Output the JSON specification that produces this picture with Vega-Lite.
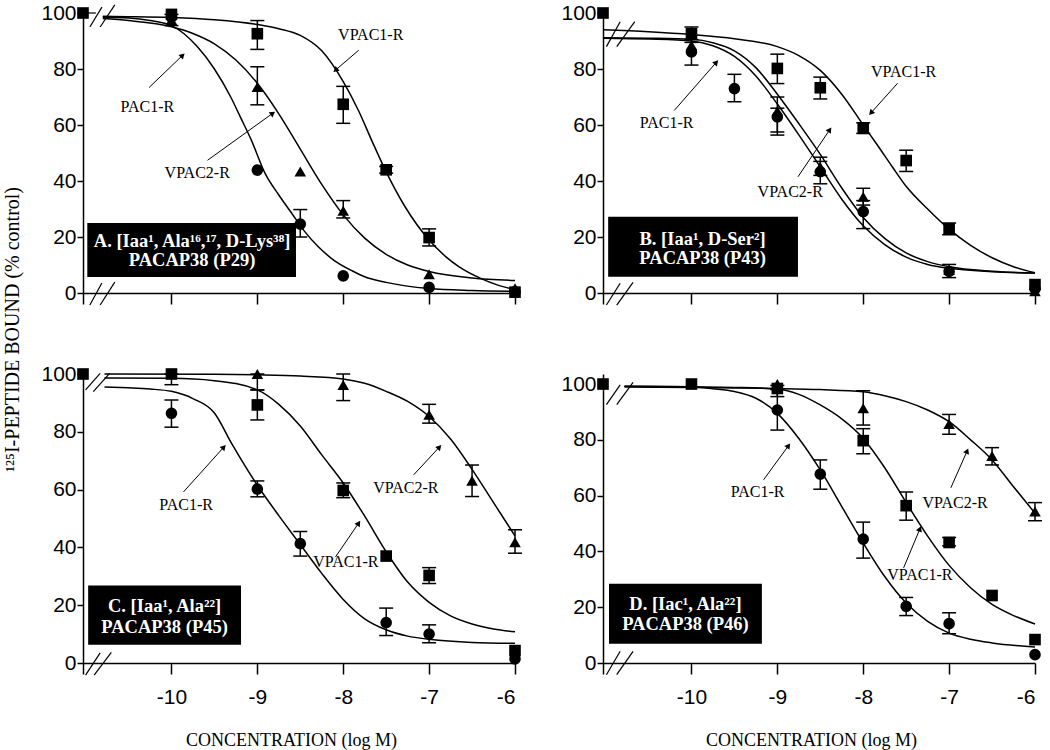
{
"$schema": "https://vega.github.io/schema/vega-lite/v6.json",
"background": "white",
"padding": {"left": 2, "top": 2, "right": 5, "bottom": 2},
"columns": 2,
"spacing": {"row": 81, "column": 88},
"bounds": "flush",
"datasets": {
"pts": [
{"panel":"A","series":"VPAC1-R","x":-11.03,"y":100},
{"panel":"A","series":"PAC1-R","x":-10,"y":98.5},
{"panel":"A","series":"VPAC2-R","x":-10,"y":97.5,"lo":95.5,"hi":99.5},
{"panel":"A","series":"VPAC1-R","x":-10,"y":99.5},
{"panel":"A","series":"VPAC1-R","x":-9,"y":92.6,"lo":87,"hi":97.3},
{"panel":"A","series":"VPAC2-R","x":-9,"y":73.6,"lo":67.2,"hi":80.8},
{"panel":"A","series":"PAC1-R","x":-9,"y":43.9},
{"panel":"A","series":"VPAC2-R","x":-8.5,"y":43.4},
{"panel":"A","series":"PAC1-R","x":-8.5,"y":24.6,"lo":20,"hi":29.8},
{"panel":"A","series":"VPAC1-R","x":-8,"y":67.4,"lo":60.6,"hi":73.8},
{"panel":"A","series":"VPAC2-R","x":-8,"y":29.4,"lo":26.8,"hi":33},
{"panel":"A","series":"PAC1-R","x":-8,"y":6.1},
{"panel":"A","series":"VPAC1-R","x":-7.5,"y":44,"lo":42.8,"hi":45.2},
{"panel":"A","series":"VPAC1-R","x":-7,"y":19.8,"lo":16.8,"hi":22.9},
{"panel":"A","series":"VPAC2-R","x":-7,"y":6.7},
{"panel":"A","series":"PAC1-R","x":-7,"y":2},
{"panel":"A","series":"PAC1-R","x":-6,"y":0.5},
{"panel":"A","series":"VPAC2-R","x":-6,"y":1.7},
{"panel":"A","series":"VPAC1-R","x":-6,"y":0.3},
{"panel":"B","series":"VPAC1-R","x":-11.03,"y":100},
{"panel":"B","series":"VPAC2-R","x":-10,"y":88.5},
{"panel":"B","series":"PAC1-R","x":-10,"y":86.1,"lo":81.4,"hi":90.5},
{"panel":"B","series":"VPAC1-R","x":-10,"y":92.6,"lo":89.5,"hi":95},
{"panel":"B","series":"PAC1-R","x":-9.5,"y":73,"lo":68.3,"hi":78.1},
{"panel":"B","series":"VPAC1-R","x":-9,"y":80.2,"lo":74.8,"hi":85.3},
{"panel":"B","series":"VPAC2-R","x":-9,"y":65,"lo":57.5,"hi":70},
{"panel":"B","series":"PAC1-R","x":-9,"y":62.9,"lo":56.4,"hi":66},
{"panel":"B","series":"VPAC1-R","x":-8.5,"y":73.3,"lo":69.3,"hi":77.1},
{"panel":"B","series":"VPAC2-R","x":-8.5,"y":45,"lo":42,"hi":48.5},
{"panel":"B","series":"PAC1-R","x":-8.5,"y":43.3,"lo":39,"hi":47},
{"panel":"B","series":"VPAC1-R","x":-8,"y":58.8,"lo":57,"hi":60.8},
{"panel":"B","series":"VPAC2-R","x":-8,"y":34.4,"lo":31.4,"hi":37.4},
{"panel":"B","series":"PAC1-R","x":-8,"y":29.1,"lo":23,"hi":33},
{"panel":"B","series":"VPAC1-R","x":-7.5,"y":47.3,"lo":43.4,"hi":51},
{"panel":"B","series":"VPAC1-R","x":-7,"y":22.9,"lo":20.8,"hi":25},
{"panel":"B","series":"VPAC2-R","x":-7,"y":8.2},
{"panel":"B","series":"PAC1-R","x":-7,"y":7.7,"lo":5.5,"hi":10.2},
{"panel":"B","series":"PAC1-R","x":-6,"y":1.5},
{"panel":"B","series":"VPAC2-R","x":-6,"y":0.6},
{"panel":"B","series":"VPAC1-R","x":-6,"y":3},
{"panel":"C","series":"VPAC1-R","x":-11.03,"y":100},
{"panel":"C","series":"VPAC2-R","x":-10,"y":100},
{"panel":"C","series":"VPAC1-R","x":-10,"y":100,"lo":96.3,"hi":100},
{"panel":"C","series":"PAC1-R","x":-10,"y":86.4,"lo":81.6,"hi":91},
{"panel":"C","series":"VPAC2-R","x":-9,"y":100,"lo":94.5,"hi":100},
{"panel":"C","series":"VPAC1-R","x":-9,"y":89.3,"lo":84.1,"hi":94.5},
{"panel":"C","series":"PAC1-R","x":-9,"y":60.2,"lo":57.5,"hi":63},
{"panel":"C","series":"PAC1-R","x":-8.5,"y":41.3,"lo":37,"hi":45.5},
{"panel":"C","series":"VPAC2-R","x":-8,"y":96.2,"lo":90.8,"hi":100},
{"panel":"C","series":"VPAC1-R","x":-8,"y":59.7,"lo":57.2,"hi":62.3},
{"panel":"C","series":"VPAC1-R","x":-7.5,"y":37},
{"panel":"C","series":"PAC1-R","x":-7.5,"y":14,"lo":9.5,"hi":19},
{"panel":"C","series":"VPAC2-R","x":-7,"y":85.9,"lo":83,"hi":89.5},
{"panel":"C","series":"VPAC1-R","x":-7,"y":30.3,"lo":27.5,"hi":33},
{"panel":"C","series":"PAC1-R","x":-7,"y":10,"lo":7,"hi":13.2},
{"panel":"C","series":"VPAC2-R","x":-6.5,"y":63.1,"lo":57.6,"hi":68.5},
{"panel":"C","series":"VPAC2-R","x":-6,"y":41.8,"lo":38,"hi":46.1},
{"panel":"C","series":"PAC1-R","x":-6,"y":1.4},
{"panel":"C","series":"VPAC1-R","x":-6,"y":4.3},
{"panel":"D","series":"VPAC1-R","x":-11.03,"y":100},
{"panel":"D","series":"VPAC1-R","x":-10,"y":100},
{"panel":"D","series":"VPAC2-R","x":-9,"y":100},
{"panel":"D","series":"PAC1-R","x":-9,"y":90.7,"lo":83.5,"hi":98},
{"panel":"D","series":"VPAC1-R","x":-9,"y":98.4,"lo":95.5,"hi":99.5},
{"panel":"D","series":"PAC1-R","x":-8.5,"y":67.7,"lo":62.3,"hi":72.8},
{"panel":"D","series":"VPAC2-R","x":-8,"y":91.3,"lo":85.3,"hi":97.6},
{"panel":"D","series":"VPAC1-R","x":-8,"y":79.7,"lo":75,"hi":84},
{"panel":"D","series":"PAC1-R","x":-8,"y":44.4,"lo":37.6,"hi":50.5},
{"panel":"D","series":"VPAC1-R","x":-7.5,"y":56.4,"lo":51.2,"hi":61.3},
{"panel":"D","series":"PAC1-R","x":-7.5,"y":20.3,"lo":17,"hi":23.5},
{"panel":"D","series":"VPAC2-R","x":-7,"y":85.7,"lo":82,"hi":89.1},
{"panel":"D","series":"VPAC1-R","x":-7,"y":43.2,"lo":42,"hi":45},
{"panel":"D","series":"PAC1-R","x":-7,"y":14.1,"lo":10.5,"hi":18},
{"panel":"D","series":"VPAC2-R","x":-6.5,"y":74.2,"lo":71,"hi":77.2},
{"panel":"D","series":"VPAC1-R","x":-6.5,"y":24.2},
{"panel":"D","series":"VPAC2-R","x":-6,"y":54.3,"lo":51,"hi":57.5},
{"panel":"D","series":"VPAC1-R","x":-6,"y":8.4},
{"panel":"D","series":"PAC1-R","x":-6,"y":3}
],
"curves": [
{"panel":"A","series":"PAC1-R","x":-10.8,"y":98.5},{"panel":"A","series":"PAC1-R","x":-10.5,"y":98.2},{"panel":"A","series":"PAC1-R","x":-10.25,"y":97.3},{"panel":"A","series":"PAC1-R","x":-10,"y":95.5},{"panel":"A","series":"PAC1-R","x":-9.85,"y":92.5},{"panel":"A","series":"PAC1-R","x":-9.7,"y":88},{"panel":"A","series":"PAC1-R","x":-9.5,"y":80},{"panel":"A","series":"PAC1-R","x":-9.31,"y":70},{"panel":"A","series":"PAC1-R","x":-9.2,"y":63},{"panel":"A","series":"PAC1-R","x":-9.07,"y":54.6},{"panel":"A","series":"PAC1-R","x":-8.91,"y":42.7},{"panel":"A","series":"PAC1-R","x":-8.75,"y":35},{"panel":"A","series":"PAC1-R","x":-8.6,"y":28.5},{"panel":"A","series":"PAC1-R","x":-8.45,"y":22},{"panel":"A","series":"PAC1-R","x":-8.29,"y":16.5},{"panel":"A","series":"PAC1-R","x":-8.1,"y":11.5},{"panel":"A","series":"PAC1-R","x":-7.9,"y":8},{"panel":"A","series":"PAC1-R","x":-7.75,"y":5.8},{"panel":"A","series":"PAC1-R","x":-7.5,"y":3.8},{"panel":"A","series":"PAC1-R","x":-7,"y":1.6},{"panel":"A","series":"PAC1-R","x":-6.5,"y":0.9},{"panel":"A","series":"PAC1-R","x":-6,"y":0.6},
{"panel":"A","series":"VPAC2-R","x":-10.8,"y":98},{"panel":"A","series":"VPAC2-R","x":-10.5,"y":97.3},{"panel":"A","series":"VPAC2-R","x":-10,"y":95.1},{"panel":"A","series":"VPAC2-R","x":-9.75,"y":92.7},{"panel":"A","series":"VPAC2-R","x":-9.5,"y":89},{"panel":"A","series":"VPAC2-R","x":-9.25,"y":83.2},{"panel":"A","series":"VPAC2-R","x":-9,"y":74.9},{"panel":"A","series":"VPAC2-R","x":-8.75,"y":64},{"panel":"A","series":"VPAC2-R","x":-8.5,"y":51.4},{"panel":"A","series":"VPAC2-R","x":-8.25,"y":38.8},{"panel":"A","series":"VPAC2-R","x":-8,"y":27.9},{"panel":"A","series":"VPAC2-R","x":-7.75,"y":19.6},{"panel":"A","series":"VPAC2-R","x":-7.5,"y":13.8},{"panel":"A","series":"VPAC2-R","x":-7.25,"y":10},{"panel":"A","series":"VPAC2-R","x":-7,"y":7.7},{"panel":"A","series":"VPAC2-R","x":-6.5,"y":5.4},{"panel":"A","series":"VPAC2-R","x":-6,"y":4.5},
{"panel":"A","series":"VPAC1-R","x":-10.8,"y":98.8},{"panel":"A","series":"VPAC1-R","x":-10.5,"y":98.7},{"panel":"A","series":"VPAC1-R","x":-10,"y":98.4},{"panel":"A","series":"VPAC1-R","x":-9.5,"y":97.6},{"panel":"A","series":"VPAC1-R","x":-9,"y":95.9},{"panel":"A","series":"VPAC1-R","x":-8.75,"y":94.4},{"panel":"A","series":"VPAC1-R","x":-8.5,"y":92},{"panel":"A","series":"VPAC1-R","x":-8.25,"y":86.5},{"panel":"A","series":"VPAC1-R","x":-8,"y":75.5},{"panel":"A","series":"VPAC1-R","x":-7.82,"y":65},{"panel":"A","series":"VPAC1-R","x":-7.67,"y":54.6},{"panel":"A","series":"VPAC1-R","x":-7.51,"y":43.9},{"panel":"A","series":"VPAC1-R","x":-7.28,"y":30.8},{"panel":"A","series":"VPAC1-R","x":-7,"y":18.9},{"panel":"A","series":"VPAC1-R","x":-6.8,"y":12.8},{"panel":"A","series":"VPAC1-R","x":-6.65,"y":9.3},{"panel":"A","series":"VPAC1-R","x":-6.4,"y":5.2},{"panel":"A","series":"VPAC1-R","x":-6.2,"y":2.8},{"panel":"A","series":"VPAC1-R","x":-6,"y":1.2},
{"panel":"B","series":"VPAC1-R","x":-11.03,"y":94},{"panel":"B","series":"VPAC1-R","x":-10.5,"y":93.3},{"panel":"B","series":"VPAC1-R","x":-10,"y":92.3},{"panel":"B","series":"VPAC1-R","x":-9.5,"y":90.8},{"panel":"B","series":"VPAC1-R","x":-9,"y":88},{"panel":"B","series":"VPAC1-R","x":-8.75,"y":84.8},{"panel":"B","series":"VPAC1-R","x":-8.5,"y":79.5},{"panel":"B","series":"VPAC1-R","x":-8.25,"y":71},{"panel":"B","series":"VPAC1-R","x":-8,"y":60},{"panel":"B","series":"VPAC1-R","x":-7.85,"y":53.5},{"panel":"B","series":"VPAC1-R","x":-7.66,"y":45},{"panel":"B","series":"VPAC1-R","x":-7.51,"y":38.5},{"panel":"B","series":"VPAC1-R","x":-7.25,"y":30},{"panel":"B","series":"VPAC1-R","x":-7,"y":22.8},{"panel":"B","series":"VPAC1-R","x":-6.75,"y":17},{"panel":"B","series":"VPAC1-R","x":-6.5,"y":12.6},{"panel":"B","series":"VPAC1-R","x":-6.25,"y":9.4},{"panel":"B","series":"VPAC1-R","x":-6,"y":7.2},
{"panel":"B","series":"PAC1-R","x":-11.03,"y":91},{"panel":"B","series":"PAC1-R","x":-10.5,"y":90.7},{"panel":"B","series":"PAC1-R","x":-10,"y":90},{"panel":"B","series":"PAC1-R","x":-9.75,"y":88.3},{"panel":"B","series":"PAC1-R","x":-9.5,"y":84.5},{"panel":"B","series":"PAC1-R","x":-9.25,"y":77.5},{"panel":"B","series":"PAC1-R","x":-9,"y":67.5},{"panel":"B","series":"PAC1-R","x":-8.75,"y":56.5},{"panel":"B","series":"PAC1-R","x":-8.5,"y":45},{"panel":"B","series":"PAC1-R","x":-8.25,"y":33.5},{"panel":"B","series":"PAC1-R","x":-8,"y":24},{"panel":"B","series":"PAC1-R","x":-7.75,"y":17.3},{"panel":"B","series":"PAC1-R","x":-7.5,"y":12.8},{"panel":"B","series":"PAC1-R","x":-7.25,"y":10.2},{"panel":"B","series":"PAC1-R","x":-7,"y":8.8},{"panel":"B","series":"PAC1-R","x":-6.5,"y":7.6},{"panel":"B","series":"PAC1-R","x":-6,"y":7.1},
{"panel":"B","series":"VPAC2-R","x":-11.03,"y":91.2},{"panel":"B","series":"VPAC2-R","x":-10.5,"y":91},{"panel":"B","series":"VPAC2-R","x":-10,"y":90.6},{"panel":"B","series":"VPAC2-R","x":-9.75,"y":89.4},{"panel":"B","series":"VPAC2-R","x":-9.5,"y":86.5},{"panel":"B","series":"VPAC2-R","x":-9.25,"y":80.5},{"panel":"B","series":"VPAC2-R","x":-9,"y":71},{"panel":"B","series":"VPAC2-R","x":-8.75,"y":60.5},{"panel":"B","series":"VPAC2-R","x":-8.5,"y":49.5},{"panel":"B","series":"VPAC2-R","x":-8.25,"y":37.5},{"panel":"B","series":"VPAC2-R","x":-8,"y":27},{"panel":"B","series":"VPAC2-R","x":-7.75,"y":19.5},{"panel":"B","series":"VPAC2-R","x":-7.5,"y":14.3},{"panel":"B","series":"VPAC2-R","x":-7.25,"y":11.2},{"panel":"B","series":"VPAC2-R","x":-7,"y":9.4},{"panel":"B","series":"VPAC2-R","x":-6.5,"y":7.8},{"panel":"B","series":"VPAC2-R","x":-6,"y":7.1},
{"panel":"C","series":"PAC1-R","x":-10.78,"y":95.5},{"panel":"C","series":"PAC1-R","x":-10.5,"y":95.2},{"panel":"C","series":"PAC1-R","x":-10.25,"y":94.8},{"panel":"C","series":"PAC1-R","x":-10,"y":94},{"panel":"C","series":"PAC1-R","x":-9.75,"y":91.5},{"panel":"C","series":"PAC1-R","x":-9.5,"y":86.5},{"panel":"C","series":"PAC1-R","x":-9.3,"y":76},{"panel":"C","series":"PAC1-R","x":-9,"y":61.5},{"panel":"C","series":"PAC1-R","x":-8.75,"y":51},{"panel":"C","series":"PAC1-R","x":-8.5,"y":41},{"panel":"C","series":"PAC1-R","x":-8.25,"y":31},{"panel":"C","series":"PAC1-R","x":-8,"y":22},{"panel":"C","series":"PAC1-R","x":-7.75,"y":15.3},{"panel":"C","series":"PAC1-R","x":-7.5,"y":11.5},{"panel":"C","series":"PAC1-R","x":-7.25,"y":9.3},{"panel":"C","series":"PAC1-R","x":-7,"y":8.2},{"panel":"C","series":"PAC1-R","x":-6.5,"y":7.1},{"panel":"C","series":"PAC1-R","x":-6,"y":6.8},
{"panel":"C","series":"VPAC1-R","x":-10.78,"y":98.6},{"panel":"C","series":"VPAC1-R","x":-10,"y":98.5},{"panel":"C","series":"VPAC1-R","x":-9.5,"y":97.7},{"panel":"C","series":"VPAC1-R","x":-9,"y":94.5},{"panel":"C","series":"VPAC1-R","x":-8.75,"y":89.5},{"panel":"C","series":"VPAC1-R","x":-8.5,"y":82},{"panel":"C","series":"VPAC1-R","x":-8.25,"y":72},{"panel":"C","series":"VPAC1-R","x":-8,"y":62.3},{"panel":"C","series":"VPAC1-R","x":-7.75,"y":50.8},{"panel":"C","series":"VPAC1-R","x":-7.5,"y":38.5},{"panel":"C","series":"VPAC1-R","x":-7.25,"y":28},{"panel":"C","series":"VPAC1-R","x":-7,"y":21},{"panel":"C","series":"VPAC1-R","x":-6.75,"y":16.3},{"panel":"C","series":"VPAC1-R","x":-6.5,"y":13.5},{"panel":"C","series":"VPAC1-R","x":-6.25,"y":11.8},{"panel":"C","series":"VPAC1-R","x":-6,"y":10.8},
{"panel":"C","series":"VPAC2-R","x":-10.78,"y":100},{"panel":"C","series":"VPAC2-R","x":-9.5,"y":99.9},{"panel":"C","series":"VPAC2-R","x":-9,"y":99.7},{"panel":"C","series":"VPAC2-R","x":-8.5,"y":99.3},{"panel":"C","series":"VPAC2-R","x":-8,"y":98.3},{"panel":"C","series":"VPAC2-R","x":-7.75,"y":96.8},{"panel":"C","series":"VPAC2-R","x":-7.5,"y":94},{"panel":"C","series":"VPAC2-R","x":-7.25,"y":90.5},{"panel":"C","series":"VPAC2-R","x":-7,"y":85.3},{"panel":"C","series":"VPAC2-R","x":-6.75,"y":77.5},{"panel":"C","series":"VPAC2-R","x":-6.5,"y":67},{"panel":"C","series":"VPAC2-R","x":-6.25,"y":55.5},{"panel":"C","series":"VPAC2-R","x":-6,"y":44},
{"panel":"D","series":"PAC1-R","x":-10.78,"y":99.2},{"panel":"D","series":"PAC1-R","x":-10,"y":99},{"panel":"D","series":"PAC1-R","x":-9.75,"y":98.3},{"panel":"D","series":"PAC1-R","x":-9.5,"y":97.3},{"panel":"D","series":"PAC1-R","x":-9.25,"y":94.9},{"panel":"D","series":"PAC1-R","x":-9,"y":89.5},{"panel":"D","series":"PAC1-R","x":-8.75,"y":80.5},{"panel":"D","series":"PAC1-R","x":-8.5,"y":69.2},{"panel":"D","series":"PAC1-R","x":-8.25,"y":56.1},{"panel":"D","series":"PAC1-R","x":-8,"y":43},{"panel":"D","series":"PAC1-R","x":-7.75,"y":31},{"panel":"D","series":"PAC1-R","x":-7.5,"y":21.5},{"panel":"D","series":"PAC1-R","x":-7.25,"y":14.9},{"panel":"D","series":"PAC1-R","x":-7,"y":10.7},{"panel":"D","series":"PAC1-R","x":-6.75,"y":8.5},{"panel":"D","series":"PAC1-R","x":-6.5,"y":7.2},{"panel":"D","series":"PAC1-R","x":-6,"y":5.7},
{"panel":"D","series":"VPAC1-R","x":-10.78,"y":99.2},{"panel":"D","series":"VPAC1-R","x":-10,"y":99},{"panel":"D","series":"VPAC1-R","x":-9.5,"y":98.8},{"panel":"D","series":"VPAC1-R","x":-9,"y":98.2},{"panel":"D","series":"VPAC1-R","x":-8.75,"y":96.3},{"panel":"D","series":"VPAC1-R","x":-8.5,"y":92.5},{"panel":"D","series":"VPAC1-R","x":-8.25,"y":87.5},{"panel":"D","series":"VPAC1-R","x":-8,"y":80.5},{"panel":"D","series":"VPAC1-R","x":-7.75,"y":70},{"panel":"D","series":"VPAC1-R","x":-7.5,"y":57.5},{"panel":"D","series":"VPAC1-R","x":-7.25,"y":45.5},{"panel":"D","series":"VPAC1-R","x":-7,"y":35},{"panel":"D","series":"VPAC1-R","x":-6.75,"y":27},{"panel":"D","series":"VPAC1-R","x":-6.5,"y":21},{"panel":"D","series":"VPAC1-R","x":-6.25,"y":17},{"panel":"D","series":"VPAC1-R","x":-6,"y":14},
{"panel":"D","series":"VPAC2-R","x":-10.78,"y":98.9},{"panel":"D","series":"VPAC2-R","x":-10,"y":98.8},{"panel":"D","series":"VPAC2-R","x":-9,"y":98.4},{"panel":"D","series":"VPAC2-R","x":-8.5,"y":98},{"panel":"D","series":"VPAC2-R","x":-8,"y":97.2},{"panel":"D","series":"VPAC2-R","x":-7.75,"y":95.8},{"panel":"D","series":"VPAC2-R","x":-7.5,"y":93.7},{"panel":"D","series":"VPAC2-R","x":-7.25,"y":90.7},{"panel":"D","series":"VPAC2-R","x":-7,"y":86.5},{"panel":"D","series":"VPAC2-R","x":-6.75,"y":80},{"panel":"D","series":"VPAC2-R","x":-6.5,"y":72.8},{"panel":"D","series":"VPAC2-R","x":-6.25,"y":63.2},{"panel":"D","series":"VPAC2-R","x":-6,"y":53.7}
],
"notes": [
{"panel":"A","label":"VPAC1-R","x":-7.68,"y":92},
{"panel":"A","label":"PAC1-R","x":-10.28,"y":66.4},
{"panel":"A","label":"VPAC2-R","x":-9.7,"y":42.8},
{"panel":"B","label":"VPAC1-R","x":-7.53,"y":78.9},
{"panel":"B","label":"PAC1-R","x":-10.29,"y":60.7},
{"panel":"B","label":"VPAC2-R","x":-8.85,"y":36.1},
{"panel":"C","label":"PAC1-R","x":-9.83,"y":54.7},
{"panel":"C","label":"VPAC1-R","x":-7.97,"y":34.9},
{"panel":"C","label":"VPAC2-R","x":-7.27,"y":60.6},
{"panel":"D","label":"PAC1-R","x":-9.23,"y":61.3},
{"panel":"D","label":"VPAC2-R","x":-6.93,"y":57.4},
{"panel":"D","label":"VPAC1-R","x":-7.34,"y":31.6}
],
"arrows": [
{"panel":"A","x":-7.82,"y":86.7,"x2":-8.09,"y2":79.6,"angle":229},
{"panel":"A","x":-10.26,"y":73.4,"x2":-9.87,"y2":84.9,"angle":46},
{"panel":"A","x":-9.58,"y":47.4,"x2":-8.82,"y2":64.2,"angle":54},
{"panel":"B","x":-7.6,"y":74.9,"x2":-7.91,"y2":64.3,"angle":222},
{"panel":"B","x":-10.2,"y":65.2,"x2":-9.71,"y2":82.4,"angle":42},
{"panel":"B","x":-8.76,"y":41.5,"x2":-8.39,"y2":58.3,"angle":34},
{"panel":"C","x":-9.86,"y":59.2,"x2":-9.39,"y2":74.7,"angle":42},
{"panel":"C","x":-8.09,"y":36.7,"x2":-7.82,"y2":48.4,"angle":34},
{"panel":"C","x":-7.18,"y":65.1,"x2":-6.88,"y2":74.7,"angle":42},
{"panel":"D","x":-9.16,"y":65.7,"x2":-8.87,"y2":77.9,"angle":36},
{"panel":"D","x":-6.98,"y":62.8,"x2":-6.79,"y2":76,"angle":23},
{"panel":"D","x":-7.53,"y":34.1,"x2":-7.34,"y2":48.1,"angle":22}
],
"boxes": [
{"panel":"A","x":-10.98,"x2":-8.55,"y":25,"y2":5.7},
{"panel":"B","x":-10.97,"x2":-8.76,"y":27.2,"y2":5.8},
{"panel":"C","x":-10.97,"x2":-9.19,"y":26.8,"y2":6.3},
{"panel":"D","x":-10.96,"x2":-9.18,"y":28.4,"y2":6.9}
],
"boxtext": [
{"panel":"A","t":"A. [Iaa¹, Ala¹⁶,¹⁷, D-Lys³⁸]","x":-9.76,"y":18.4},
{"panel":"A","t":"PACAP38 (P29)","x":-9.76,"y":11.8},
{"panel":"B","t":"B. [Iaa¹, D-Ser²]","x":-9.87,"y":19.4},
{"panel":"B","t":"PACAP38 (P43)","x":-9.87,"y":12.6},
{"panel":"C","t":"C. [Iaa¹, Ala²²]","x":-10.08,"y":19.6},
{"panel":"C","t":"PACAP38 (P45)","x":-10.08,"y":12.6},
{"panel":"D","t":"D. [Iac¹, Ala²²]","x":-10.07,"y":21.1},
{"panel":"D","t":"PACAP38 (P46)","x":-10.07,"y":13.9}
],
"breaks": [
{"panel":"A","x":-10.95,"y":95,"x2":-10.81,"y2":102.1},
{"panel":"A","x":-10.83,"y":95,"x2":-10.66,"y2":102.9},
{"panel":"A","x":-10.95,"y":-4.3,"x2":-10.81,"y2":3.6},
{"panel":"A","x":-10.83,"y":-4.3,"x2":-10.66,"y2":3.9},
{"panel":"A","x":-11.03,"y":100,"x2":-10.88,"y2":100},
{"panel":"B","x":-10.99,"y":88,"x2":-10.83,"y2":96.9},
{"panel":"B","x":-10.87,"y":88,"x2":-10.66,"y2":96.9},
{"panel":"B","x":-10.99,"y":-4.3,"x2":-10.83,"y2":3.5},
{"panel":"B","x":-10.87,"y":-4.3,"x2":-10.68,"y2":3.8},
{"panel":"C","x":-11.0,"y":94.5,"x2":-10.83,"y2":100.2},
{"panel":"C","x":-10.91,"y":93.9,"x2":-10.72,"y2":100.2},
{"panel":"C","x":-11.0,"y":-4.2,"x2":-10.83,"y2":3.5},
{"panel":"C","x":-10.9,"y":-4.2,"x2":-10.7,"y2":3.7},
{"panel":"D","x":-10.99,"y":92.6,"x2":-10.83,"y2":99.7},
{"panel":"D","x":-10.87,"y":92.6,"x2":-10.68,"y2":100.6},
{"panel":"D","x":-10.99,"y":-4.2,"x2":-10.83,"y2":4.2},
{"panel":"D","x":-10.87,"y":-4.2,"x2":-10.68,"y2":4.2}
]
},
"concat": [
{
"width": 432, "height": 280,
"encoding": {
"x": {"field":"x","type":"quantitative","scale":{"domain":[-11.03,-6],"nice":false,"zero":false},"axis":{"values":[-11.03,-10,-9,-8,-7,-6],"labels":false,"title":null}},
"y": {"field":"y","type":"quantitative","scale":{"domain":[0,100],"nice":false,"zero":false},"axis":{"values":[0,20,40,60,80,100],"title":"¹²⁵I-PEPTIDE BOUND (% control)","titleX":-71,"titleY":316,"titleAngle":270,"titleAlign":"center","titleBaseline":"middle","titleFontSize":20}}
},
"layer": [
{"data":{"name":"boxes"},"transform":[{"filter":"datum.panel==='A'"}],"mark":{"type":"rect","color":"black"},"encoding":{"x2":{"field":"x2"},"y2":{"field":"y2"}}},
{"data":{"name":"boxtext"},"transform":[{"filter":"datum.panel==='A'"}],"mark":{"type":"text","color":"white","font":"Liberation Serif","fontWeight":"bold","fontSize":18.5},"encoding":{"text":{"field":"t"}}},
{"data":{"name":"curves"},"transform":[{"filter":"datum.panel==='A'"}],"mark":{"type":"line","color":"black","strokeWidth":1.5,"interpolate":"monotone"},"encoding":{"detail":{"field":"series"}}},
{"data":{"name":"breaks"},"transform":[{"filter":"datum.panel==='A'"}],"mark":{"type":"rule","color":"black","strokeWidth":1.2},"encoding":{"x2":{"field":"x2"},"y2":{"field":"y2"}}},
{"data":{"name":"pts"},"transform":[{"filter":"datum.panel==='A' && isValid(datum.lo)"}],"mark":{"type":"rule","color":"black","strokeWidth":1.5},"encoding":{"y":{"field":"lo","type":"quantitative","scale":{"domain":[0,100],"nice":false,"zero":false}},"y2":{"field":"hi"}}},
{"data":{"name":"pts"},"transform":[{"filter":"datum.panel==='A' && isValid(datum.lo)"},{"fold":["lo","hi"],"as":["k","v"]}],"mark":{"type":"tick","orient":"horizontal","color":"black","size":14,"thickness":1.5,"opacity":1},"encoding":{"y":{"field":"v","type":"quantitative","scale":{"domain":[0,100],"nice":false,"zero":false}}}},
{"data":{"name":"pts"},"transform":[{"filter":"datum.panel==='A'"}],"mark":{"type":"point","filled":true,"color":"black","opacity":1,"size":135},"encoding":{"shape":{"field":"series","type":"nominal","scale":{"domain":["PAC1-R","VPAC1-R","VPAC2-R"],"range":["circle","square","triangle-up"]},"legend":null}}},
{"data":{"name":"notes"},"transform":[{"filter":"datum.panel==='A'"}],"mark":{"type":"text","font":"Liberation Serif","fontSize":16,"color":"black"},"encoding":{"text":{"field":"label"}}},
{"data":{"name":"arrows"},"transform":[{"filter":"datum.panel==='A'"}],"mark":{"type":"rule","color":"black","strokeWidth":1},"encoding":{"x2":{"field":"x2"},"y2":{"field":"y2"}}},
{"data":{"name":"arrows"},"transform":[{"filter":"datum.panel==='A'"}],"mark":{"type":"point","shape":"triangle-up","filled":true,"color":"black","opacity":1,"size":40},"encoding":{"x":{"field":"x2","type":"quantitative","scale":{"domain":[-11.03,-6],"nice":false,"zero":false}},"y":{"field":"y2","type":"quantitative","scale":{"domain":[0,100],"nice":false,"zero":false}},"angle":{"field":"angle","type":"quantitative","scale":null}}}
]
},
{
"width": 432, "height": 280,
"encoding": {
"x": {"field":"x","type":"quantitative","scale":{"domain":[-11.03,-6],"nice":false,"zero":false},"axis":{"values":[-11.03,-10,-9,-8,-7,-6],"labels":false,"title":null}},
"y": {"field":"y","type":"quantitative","scale":{"domain":[0,100],"nice":false,"zero":false},"axis":{"values":[0,20,40,60,80,100],"title":null}}
},
"layer": [
{"data":{"name":"boxes"},"transform":[{"filter":"datum.panel==='B'"}],"mark":{"type":"rect","color":"black"},"encoding":{"x2":{"field":"x2"},"y2":{"field":"y2"}}},
{"data":{"name":"boxtext"},"transform":[{"filter":"datum.panel==='B'"}],"mark":{"type":"text","color":"white","font":"Liberation Serif","fontWeight":"bold","fontSize":18.5},"encoding":{"text":{"field":"t"}}},
{"data":{"name":"curves"},"transform":[{"filter":"datum.panel==='B'"}],"mark":{"type":"line","color":"black","strokeWidth":1.5,"interpolate":"monotone"},"encoding":{"detail":{"field":"series"}}},
{"data":{"name":"breaks"},"transform":[{"filter":"datum.panel==='B'"}],"mark":{"type":"rule","color":"black","strokeWidth":1.2},"encoding":{"x2":{"field":"x2"},"y2":{"field":"y2"}}},
{"data":{"name":"pts"},"transform":[{"filter":"datum.panel==='B' && isValid(datum.lo)"}],"mark":{"type":"rule","color":"black","strokeWidth":1.5},"encoding":{"y":{"field":"lo","type":"quantitative","scale":{"domain":[0,100],"nice":false,"zero":false}},"y2":{"field":"hi"}}},
{"data":{"name":"pts"},"transform":[{"filter":"datum.panel==='B' && isValid(datum.lo)"},{"fold":["lo","hi"],"as":["k","v"]}],"mark":{"type":"tick","orient":"horizontal","color":"black","size":14,"thickness":1.5,"opacity":1},"encoding":{"y":{"field":"v","type":"quantitative","scale":{"domain":[0,100],"nice":false,"zero":false}}}},
{"data":{"name":"pts"},"transform":[{"filter":"datum.panel==='B'"}],"mark":{"type":"point","filled":true,"color":"black","opacity":1,"size":135},"encoding":{"shape":{"field":"series","type":"nominal","scale":{"domain":["PAC1-R","VPAC1-R","VPAC2-R"],"range":["circle","square","triangle-up"]},"legend":null}}},
{"data":{"name":"notes"},"transform":[{"filter":"datum.panel==='B'"}],"mark":{"type":"text","font":"Liberation Serif","fontSize":16,"color":"black"},"encoding":{"text":{"field":"label"}}},
{"data":{"name":"arrows"},"transform":[{"filter":"datum.panel==='B'"}],"mark":{"type":"rule","color":"black","strokeWidth":1},"encoding":{"x2":{"field":"x2"},"y2":{"field":"y2"}}},
{"data":{"name":"arrows"},"transform":[{"filter":"datum.panel==='B'"}],"mark":{"type":"point","shape":"triangle-up","filled":true,"color":"black","opacity":1,"size":40},"encoding":{"x":{"field":"x2","type":"quantitative","scale":{"domain":[-11.03,-6],"nice":false,"zero":false}},"y":{"field":"y2","type":"quantitative","scale":{"domain":[0,100],"nice":false,"zero":false}},"angle":{"field":"angle","type":"quantitative","scale":null}}}
]
},
{
"width": 432, "height": 289,
"encoding": {
"x": {"field":"x","type":"quantitative","scale":{"domain":[-11.03,-6],"nice":false,"zero":false},"axis":{"values":[-11.03,-10,-9,-8,-7,-6],"labelExpr":"datum.value < -10.5 ? '' : '-' + abs(datum.value)","title":"CONCENTRATION (log M)","titleX":208}},
"y": {"field":"y","type":"quantitative","scale":{"domain":[0,100],"nice":false,"zero":false},"axis":{"values":[0,20,40,60,80,100],"title":null}}
},
"layer": [
{"data":{"name":"boxes"},"transform":[{"filter":"datum.panel==='C'"}],"mark":{"type":"rect","color":"black"},"encoding":{"x2":{"field":"x2"},"y2":{"field":"y2"}}},
{"data":{"name":"boxtext"},"transform":[{"filter":"datum.panel==='C'"}],"mark":{"type":"text","color":"white","font":"Liberation Serif","fontWeight":"bold","fontSize":18.5},"encoding":{"text":{"field":"t"}}},
{"data":{"name":"curves"},"transform":[{"filter":"datum.panel==='C'"}],"mark":{"type":"line","color":"black","strokeWidth":1.5,"interpolate":"monotone"},"encoding":{"detail":{"field":"series"}}},
{"data":{"name":"breaks"},"transform":[{"filter":"datum.panel==='C'"}],"mark":{"type":"rule","color":"black","strokeWidth":1.2},"encoding":{"x2":{"field":"x2"},"y2":{"field":"y2"}}},
{"data":{"name":"pts"},"transform":[{"filter":"datum.panel==='C' && isValid(datum.lo)"}],"mark":{"type":"rule","color":"black","strokeWidth":1.5},"encoding":{"y":{"field":"lo","type":"quantitative","scale":{"domain":[0,100],"nice":false,"zero":false}},"y2":{"field":"hi"}}},
{"data":{"name":"pts"},"transform":[{"filter":"datum.panel==='C' && isValid(datum.lo)"},{"fold":["lo","hi"],"as":["k","v"]}],"mark":{"type":"tick","orient":"horizontal","color":"black","size":14,"thickness":1.5,"opacity":1},"encoding":{"y":{"field":"v","type":"quantitative","scale":{"domain":[0,100],"nice":false,"zero":false}}}},
{"data":{"name":"pts"},"transform":[{"filter":"datum.panel==='C'"}],"mark":{"type":"point","filled":true,"color":"black","opacity":1,"size":135},"encoding":{"shape":{"field":"series","type":"nominal","scale":{"domain":["PAC1-R","VPAC1-R","VPAC2-R"],"range":["circle","square","triangle-up"]},"legend":null}}},
{"data":{"name":"notes"},"transform":[{"filter":"datum.panel==='C'"}],"mark":{"type":"text","font":"Liberation Serif","fontSize":16,"color":"black"},"encoding":{"text":{"field":"label"}}},
{"data":{"name":"arrows"},"transform":[{"filter":"datum.panel==='C'"}],"mark":{"type":"rule","color":"black","strokeWidth":1},"encoding":{"x2":{"field":"x2"},"y2":{"field":"y2"}}},
{"data":{"name":"arrows"},"transform":[{"filter":"datum.panel==='C'"}],"mark":{"type":"point","shape":"triangle-up","filled":true,"color":"black","opacity":1,"size":40},"encoding":{"x":{"field":"x2","type":"quantitative","scale":{"domain":[-11.03,-6],"nice":false,"zero":false}},"y":{"field":"y2","type":"quantitative","scale":{"domain":[0,100],"nice":false,"zero":false}},"angle":{"field":"angle","type":"quantitative","scale":null}}}
]
},
{
"width": 432, "height": 289,
"encoding": {
"x": {"field":"x","type":"quantitative","scale":{"domain":[-11.03,-6],"nice":false,"zero":false},"axis":{"values":[-11.03,-10,-9,-8,-7,-6],"labelExpr":"datum.value < -10.5 ? '' : '-' + abs(datum.value)","title":"CONCENTRATION (log M)","titleX":208}},
"y": {"field":"y","type":"quantitative","scale":{"domain":[0,103.6],"nice":false,"zero":false},"axis":{"values":[0,20,40,60,80,100],"title":null}}
},
"layer": [
{"data":{"name":"boxes"},"transform":[{"filter":"datum.panel==='D'"}],"mark":{"type":"rect","color":"black"},"encoding":{"x2":{"field":"x2"},"y2":{"field":"y2"}}},
{"data":{"name":"boxtext"},"transform":[{"filter":"datum.panel==='D'"}],"mark":{"type":"text","color":"white","font":"Liberation Serif","fontWeight":"bold","fontSize":18.5},"encoding":{"text":{"field":"t"}}},
{"data":{"name":"curves"},"transform":[{"filter":"datum.panel==='D'"}],"mark":{"type":"line","color":"black","strokeWidth":1.5,"interpolate":"monotone"},"encoding":{"detail":{"field":"series"}}},
{"data":{"name":"breaks"},"transform":[{"filter":"datum.panel==='D'"}],"mark":{"type":"rule","color":"black","strokeWidth":1.2},"encoding":{"x2":{"field":"x2"},"y2":{"field":"y2"}}},
{"data":{"name":"pts"},"transform":[{"filter":"datum.panel==='D' && isValid(datum.lo)"}],"mark":{"type":"rule","color":"black","strokeWidth":1.5},"encoding":{"y":{"field":"lo","type":"quantitative","scale":{"domain":[0,103.6],"nice":false,"zero":false}},"y2":{"field":"hi"}}},
{"data":{"name":"pts"},"transform":[{"filter":"datum.panel==='D' && isValid(datum.lo)"},{"fold":["lo","hi"],"as":["k","v"]}],"mark":{"type":"tick","orient":"horizontal","color":"black","size":14,"thickness":1.5,"opacity":1},"encoding":{"y":{"field":"v","type":"quantitative","scale":{"domain":[0,103.6],"nice":false,"zero":false}}}},
{"data":{"name":"pts"},"transform":[{"filter":"datum.panel==='D'"}],"mark":{"type":"point","filled":true,"color":"black","opacity":1,"size":135},"encoding":{"shape":{"field":"series","type":"nominal","scale":{"domain":["PAC1-R","VPAC1-R","VPAC2-R"],"range":["circle","square","triangle-up"]},"legend":null}}},
{"data":{"name":"notes"},"transform":[{"filter":"datum.panel==='D'"}],"mark":{"type":"text","font":"Liberation Serif","fontSize":16,"color":"black"},"encoding":{"text":{"field":"label"}}},
{"data":{"name":"arrows"},"transform":[{"filter":"datum.panel==='D'"}],"mark":{"type":"rule","color":"black","strokeWidth":1},"encoding":{"x2":{"field":"x2"},"y2":{"field":"y2"}}},
{"data":{"name":"arrows"},"transform":[{"filter":"datum.panel==='D'"}],"mark":{"type":"point","shape":"triangle-up","filled":true,"color":"black","opacity":1,"size":40},"encoding":{"x":{"field":"x2","type":"quantitative","scale":{"domain":[-11.03,-6],"nice":false,"zero":false}},"y":{"field":"y2","type":"quantitative","scale":{"domain":[0,103.6],"nice":false,"zero":false}},"angle":{"field":"angle","type":"quantitative","scale":null}}}
]
}
],
"config": {
"view": {"stroke": null},
"axis": {"grid": false, "domainColor": "black", "domainWidth": 1.5, "tickColor": "black", "tickWidth": 1.5, "labelColor": "black", "labelFont": "Liberation Sans", "labelFontSize": 21, "titleFont": "Liberation Serif", "titleFontWeight": "normal", "titleFontSize": 18, "titleColor": "black"},
"axisY": {"tickSize": 6, "labelPadding": 1},
"axisX": {"tickSize": 11, "labelPadding": 12, "titlePadding": 24}
}
}
